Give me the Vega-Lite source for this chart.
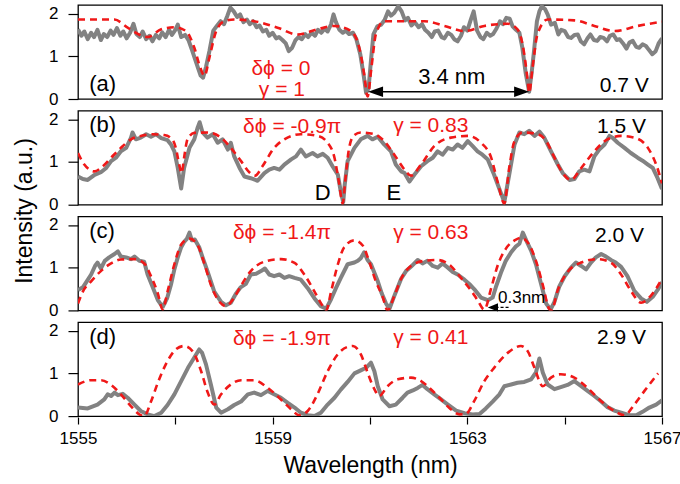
{
"$schema":"https://vega.github.io/schema/vega-lite/v6.json",
"padding":{"left":13,"top":4,"right":5,"bottom":5},
"background":"white",
"bounds":"flush",
"config":{"font":"Liberation Sans","view":{"stroke":"#000000","strokeWidth":1.3},"axis":{"labelFont":"Liberation Sans","titleFont":"Liberation Sans","labelColor":"#000","titleColor":"#000","tickColor":"#000","tickWidth":1.2,"domain":false,"grid":false,"titleFontWeight":"normal"}},
"data":{"values":[
{"p":"a","k":"g","x":1555.00,"y":1.63},{"p":"a","k":"g","x":1555.07,"y":1.48},{"p":"a","k":"g","x":1555.13,"y":1.58},{"p":"a","k":"g","x":1555.20,"y":1.40},{"p":"a","k":"g","x":1555.27,"y":1.55},{"p":"a","k":"g","x":1555.33,"y":1.45},{"p":"a","k":"g","x":1555.40,"y":1.62},{"p":"a","k":"g","x":1555.47,"y":1.38},{"p":"a","k":"g","x":1555.53,"y":1.52},{"p":"a","k":"g","x":1555.60,"y":1.45},{"p":"a","k":"g","x":1555.67,"y":1.60},{"p":"a","k":"g","x":1555.73,"y":1.50},{"p":"a","k":"g","x":1555.80,"y":1.66},{"p":"a","k":"g","x":1555.87,"y":1.48},{"p":"a","k":"g","x":1555.93,"y":1.58},{"p":"a","k":"g","x":1556.00,"y":1.42},{"p":"a","k":"g","x":1556.07,"y":1.55},{"p":"a","k":"g","x":1556.14,"y":1.76},{"p":"a","k":"g","x":1556.20,"y":1.52},{"p":"a","k":"g","x":1556.27,"y":1.45},{"p":"a","k":"g","x":1556.33,"y":1.58},{"p":"a","k":"g","x":1556.40,"y":1.40},{"p":"a","k":"g","x":1556.47,"y":1.48},{"p":"a","k":"g","x":1556.53,"y":1.35},{"p":"a","k":"g","x":1556.60,"y":1.50},{"p":"a","k":"g","x":1556.67,"y":1.42},{"p":"a","k":"g","x":1556.73,"y":1.56},{"p":"a","k":"g","x":1556.80,"y":1.45},{"p":"a","k":"g","x":1556.87,"y":1.62},{"p":"a","k":"g","x":1556.93,"y":1.50},{"p":"a","k":"g","x":1557.00,"y":1.62},{"p":"a","k":"g","x":1557.05,"y":1.74},{"p":"a","k":"g","x":1557.12,"y":1.45},{"p":"a","k":"g","x":1557.20,"y":1.50},{"p":"a","k":"g","x":1557.27,"y":1.38},{"p":"a","k":"g","x":1557.35,"y":1.12},{"p":"a","k":"g","x":1557.45,"y":0.78},{"p":"a","k":"g","x":1557.52,"y":0.55},{"p":"a","k":"g","x":1557.57,"y":0.50},{"p":"a","k":"g","x":1557.63,"y":0.75},{"p":"a","k":"g","x":1557.70,"y":1.12},{"p":"a","k":"g","x":1557.78,"y":1.60},{"p":"a","k":"g","x":1557.86,"y":1.72},{"p":"a","k":"g","x":1557.93,"y":1.82},{"p":"a","k":"g","x":1558.00,"y":1.75},{"p":"a","k":"g","x":1558.07,"y":1.95},{"p":"a","k":"g","x":1558.13,"y":2.14},{"p":"a","k":"g","x":1558.20,"y":2.05},{"p":"a","k":"g","x":1558.27,"y":1.92},{"p":"a","k":"g","x":1558.33,"y":1.98},{"p":"a","k":"g","x":1558.40,"y":1.80},{"p":"a","k":"g","x":1558.47,"y":1.86},{"p":"a","k":"g","x":1558.53,"y":1.75},{"p":"a","k":"g","x":1558.60,"y":1.82},{"p":"a","k":"g","x":1558.67,"y":1.68},{"p":"a","k":"g","x":1558.73,"y":1.72},{"p":"a","k":"g","x":1558.80,"y":1.58},{"p":"a","k":"g","x":1558.87,"y":1.62},{"p":"a","k":"g","x":1558.93,"y":1.48},{"p":"a","k":"g","x":1559.00,"y":1.55},{"p":"a","k":"g","x":1559.07,"y":1.42},{"p":"a","k":"g","x":1559.13,"y":1.45},{"p":"a","k":"g","x":1559.20,"y":1.38},{"p":"a","k":"g","x":1559.27,"y":1.30},{"p":"a","k":"g","x":1559.33,"y":1.12},{"p":"a","k":"g","x":1559.40,"y":1.20},{"p":"a","k":"g","x":1559.47,"y":1.38},{"p":"a","k":"g","x":1559.53,"y":1.45},{"p":"a","k":"g","x":1559.60,"y":1.40},{"p":"a","k":"g","x":1559.67,"y":1.52},{"p":"a","k":"g","x":1559.73,"y":1.45},{"p":"a","k":"g","x":1559.80,"y":1.55},{"p":"a","k":"g","x":1559.87,"y":1.48},{"p":"a","k":"g","x":1559.93,"y":1.62},{"p":"a","k":"g","x":1560.00,"y":1.55},{"p":"a","k":"g","x":1560.07,"y":1.65},{"p":"a","k":"g","x":1560.13,"y":1.58},{"p":"a","k":"g","x":1560.20,"y":1.75},{"p":"a","k":"g","x":1560.25,"y":1.98},{"p":"a","k":"g","x":1560.30,"y":1.80},{"p":"a","k":"g","x":1560.37,"y":1.62},{"p":"a","k":"g","x":1560.44,"y":1.55},{"p":"a","k":"g","x":1560.50,"y":1.60},{"p":"a","k":"g","x":1560.57,"y":1.52},{"p":"a","k":"g","x":1560.65,"y":1.55},{"p":"a","k":"g","x":1560.72,"y":1.40},{"p":"a","k":"g","x":1560.80,"y":1.05},{"p":"a","k":"g","x":1560.87,"y":0.55},{"p":"a","k":"g","x":1560.92,"y":0.14},{"p":"a","k":"g","x":1560.97,"y":0.25},{"p":"a","k":"g","x":1561.02,"y":0.90},{"p":"a","k":"g","x":1561.07,"y":1.51},{"p":"a","k":"g","x":1561.15,"y":1.70},{"p":"a","k":"g","x":1561.23,"y":1.74},{"p":"a","k":"g","x":1561.30,"y":1.85},{"p":"a","k":"g","x":1561.37,"y":2.05},{"p":"a","k":"g","x":1561.43,"y":1.95},{"p":"a","k":"g","x":1561.50,"y":2.02},{"p":"a","k":"g","x":1561.58,"y":2.17},{"p":"a","k":"g","x":1561.65,"y":2.05},{"p":"a","k":"g","x":1561.72,"y":1.84},{"p":"a","k":"g","x":1561.78,"y":1.90},{"p":"a","k":"g","x":1561.85,"y":1.72},{"p":"a","k":"g","x":1561.92,"y":1.80},{"p":"a","k":"g","x":1562.00,"y":1.68},{"p":"a","k":"g","x":1562.07,"y":1.75},{"p":"a","k":"g","x":1562.13,"y":1.62},{"p":"a","k":"g","x":1562.20,"y":1.55},{"p":"a","k":"g","x":1562.27,"y":1.45},{"p":"a","k":"g","x":1562.33,"y":1.58},{"p":"a","k":"g","x":1562.40,"y":1.60},{"p":"a","k":"g","x":1562.47,"y":1.45},{"p":"a","k":"g","x":1562.53,"y":1.42},{"p":"a","k":"g","x":1562.60,"y":1.55},{"p":"a","k":"g","x":1562.67,"y":1.50},{"p":"a","k":"g","x":1562.73,"y":1.40},{"p":"a","k":"g","x":1562.80,"y":1.35},{"p":"a","k":"g","x":1562.87,"y":1.48},{"p":"a","k":"g","x":1562.93,"y":1.68},{"p":"a","k":"g","x":1563.00,"y":1.60},{"p":"a","k":"g","x":1563.07,"y":1.85},{"p":"a","k":"g","x":1563.13,"y":2.05},{"p":"a","k":"g","x":1563.20,"y":1.60},{"p":"a","k":"g","x":1563.27,"y":1.45},{"p":"a","k":"g","x":1563.33,"y":1.40},{"p":"a","k":"g","x":1563.40,"y":1.55},{"p":"a","k":"g","x":1563.47,"y":1.48},{"p":"a","k":"g","x":1563.53,"y":1.52},{"p":"a","k":"g","x":1563.60,"y":1.65},{"p":"a","k":"g","x":1563.67,"y":1.82},{"p":"a","k":"g","x":1563.73,"y":1.75},{"p":"a","k":"g","x":1563.80,"y":1.90},{"p":"a","k":"g","x":1563.87,"y":1.88},{"p":"a","k":"g","x":1563.93,"y":1.70},{"p":"a","k":"g","x":1564.00,"y":1.62},{"p":"a","k":"g","x":1564.07,"y":1.55},{"p":"a","k":"g","x":1564.13,"y":1.20},{"p":"a","k":"g","x":1564.20,"y":0.60},{"p":"a","k":"g","x":1564.27,"y":0.17},{"p":"a","k":"g","x":1564.32,"y":0.60},{"p":"a","k":"g","x":1564.37,"y":1.12},{"p":"a","k":"g","x":1564.43,"y":1.82},{"p":"a","k":"g","x":1564.48,"y":2.05},{"p":"a","k":"g","x":1564.53,"y":2.17},{"p":"a","k":"g","x":1564.60,"y":2.10},{"p":"a","k":"g","x":1564.65,"y":1.98},{"p":"a","k":"g","x":1564.72,"y":1.74},{"p":"a","k":"g","x":1564.80,"y":1.78},{"p":"a","k":"g","x":1564.87,"y":1.51},{"p":"a","k":"g","x":1564.93,"y":1.62},{"p":"a","k":"g","x":1565.00,"y":1.59},{"p":"a","k":"g","x":1565.07,"y":1.45},{"p":"a","k":"g","x":1565.13,"y":1.43},{"p":"a","k":"g","x":1565.20,"y":1.50},{"p":"a","k":"g","x":1565.27,"y":1.51},{"p":"a","k":"g","x":1565.33,"y":1.35},{"p":"a","k":"g","x":1565.40,"y":1.28},{"p":"a","k":"g","x":1565.47,"y":1.42},{"p":"a","k":"g","x":1565.53,"y":1.51},{"p":"a","k":"g","x":1565.60,"y":1.38},{"p":"a","k":"g","x":1565.67,"y":1.36},{"p":"a","k":"g","x":1565.73,"y":1.45},{"p":"a","k":"g","x":1565.80,"y":1.43},{"p":"a","k":"g","x":1565.87,"y":1.35},{"p":"a","k":"g","x":1565.93,"y":1.48},{"p":"a","k":"g","x":1566.00,"y":1.51},{"p":"a","k":"g","x":1566.07,"y":1.38},{"p":"a","k":"g","x":1566.13,"y":1.40},{"p":"a","k":"g","x":1566.20,"y":1.30},{"p":"a","k":"g","x":1566.27,"y":1.18},{"p":"a","k":"g","x":1566.33,"y":1.32},{"p":"a","k":"g","x":1566.40,"y":1.36},{"p":"a","k":"g","x":1566.47,"y":1.22},{"p":"a","k":"g","x":1566.53,"y":1.20},{"p":"a","k":"g","x":1566.60,"y":1.28},{"p":"a","k":"g","x":1566.67,"y":1.24},{"p":"a","k":"g","x":1566.73,"y":1.15},{"p":"a","k":"g","x":1566.80,"y":1.05},{"p":"a","k":"g","x":1566.87,"y":1.12},{"p":"a","k":"g","x":1566.93,"y":1.30},{"p":"a","k":"g","x":1567.00,"y":1.42},
{"p":"a","k":"r","x":1555.00,"y":1.86},{"p":"a","k":"r","x":1555.75,"y":1.86},{"p":"a","k":"r","x":1556.02,"y":1.67},{"p":"a","k":"r","x":1556.43,"y":1.45},{"p":"a","k":"r","x":1556.71,"y":1.63},{"p":"a","k":"r","x":1556.98,"y":1.68},{"p":"a","k":"r","x":1557.22,"y":1.59},{"p":"a","k":"r","x":1557.39,"y":1.20},{"p":"a","k":"r","x":1557.51,"y":0.74},{"p":"a","k":"r","x":1557.60,"y":0.54},{"p":"a","k":"r","x":1557.70,"y":0.97},{"p":"a","k":"r","x":1557.84,"y":1.59},{"p":"a","k":"r","x":1558.01,"y":1.82},{"p":"a","k":"r","x":1558.21,"y":1.86},{"p":"a","k":"r","x":1558.62,"y":1.82},{"p":"a","k":"r","x":1559.10,"y":1.67},{"p":"a","k":"r","x":1559.51,"y":1.51},{"p":"a","k":"r","x":1559.92,"y":1.63},{"p":"a","k":"r","x":1560.27,"y":1.71},{"p":"a","k":"r","x":1560.61,"y":1.59},{"p":"a","k":"r","x":1560.78,"y":1.20},{"p":"a","k":"r","x":1560.88,"y":0.58},{"p":"a","k":"r","x":1560.95,"y":0.06},{"p":"a","k":"r","x":1561.03,"y":0.74},{"p":"a","k":"r","x":1561.12,"y":1.51},{"p":"a","k":"r","x":1561.29,"y":1.82},{"p":"a","k":"r","x":1562.12,"y":1.82},{"p":"a","k":"r","x":1562.53,"y":1.71},{"p":"a","k":"r","x":1562.94,"y":1.59},{"p":"a","k":"r","x":1563.35,"y":1.71},{"p":"a","k":"r","x":1563.83,"y":1.76},{"p":"a","k":"r","x":1564.03,"y":1.63},{"p":"a","k":"r","x":1564.16,"y":1.12},{"p":"a","k":"r","x":1564.24,"y":0.43},{"p":"a","k":"r","x":1564.27,"y":0.14},{"p":"a","k":"r","x":1564.34,"y":0.74},{"p":"a","k":"r","x":1564.44,"y":1.51},{"p":"a","k":"r","x":1564.65,"y":1.86},{"p":"a","k":"r","x":1565.20,"y":1.84},{"p":"a","k":"r","x":1565.61,"y":1.71},{"p":"a","k":"r","x":1566.02,"y":1.59},{"p":"a","k":"r","x":1566.50,"y":1.71},{"p":"a","k":"r","x":1567.00,"y":1.81},
{"p":"b","k":"g","x":1555.00,"y":0.66},{"p":"b","k":"g","x":1555.10,"y":0.60},{"p":"b","k":"g","x":1555.20,"y":0.58},{"p":"b","k":"g","x":1555.34,"y":0.70},{"p":"b","k":"g","x":1555.47,"y":0.76},{"p":"b","k":"g","x":1555.58,"y":0.86},{"p":"b","k":"g","x":1555.68,"y":1.02},{"p":"b","k":"g","x":1555.78,"y":1.10},{"p":"b","k":"g","x":1555.88,"y":1.25},{"p":"b","k":"g","x":1555.99,"y":1.33},{"p":"b","k":"g","x":1556.09,"y":1.57},{"p":"b","k":"g","x":1556.12,"y":1.69},{"p":"b","k":"g","x":1556.19,"y":1.53},{"p":"b","k":"g","x":1556.29,"y":1.57},{"p":"b","k":"g","x":1556.40,"y":1.65},{"p":"b","k":"g","x":1556.50,"y":1.59},{"p":"b","k":"g","x":1556.60,"y":1.65},{"p":"b","k":"g","x":1556.71,"y":1.56},{"p":"b","k":"g","x":1556.84,"y":1.51},{"p":"b","k":"g","x":1556.91,"y":1.41},{"p":"b","k":"g","x":1556.98,"y":1.25},{"p":"b","k":"g","x":1557.05,"y":0.86},{"p":"b","k":"g","x":1557.12,"y":0.38},{"p":"b","k":"g","x":1557.18,"y":0.86},{"p":"b","k":"g","x":1557.29,"y":1.33},{"p":"b","k":"g","x":1557.39,"y":1.53},{"p":"b","k":"g","x":1557.46,"y":1.81},{"p":"b","k":"g","x":1557.50,"y":1.93},{"p":"b","k":"g","x":1557.56,"y":1.69},{"p":"b","k":"g","x":1557.66,"y":1.57},{"p":"b","k":"g","x":1557.77,"y":1.65},{"p":"b","k":"g","x":1557.87,"y":1.45},{"p":"b","k":"g","x":1557.97,"y":1.53},{"p":"b","k":"g","x":1558.08,"y":1.29},{"p":"b","k":"g","x":1558.14,"y":1.45},{"p":"b","k":"g","x":1558.21,"y":1.13},{"p":"b","k":"g","x":1558.32,"y":0.86},{"p":"b","k":"g","x":1558.42,"y":0.66},{"p":"b","k":"g","x":1558.55,"y":0.62},{"p":"b","k":"g","x":1558.69,"y":0.56},{"p":"b","k":"g","x":1558.83,"y":0.74},{"p":"b","k":"g","x":1558.93,"y":0.82},{"p":"b","k":"g","x":1559.03,"y":0.86},{"p":"b","k":"g","x":1559.14,"y":0.82},{"p":"b","k":"g","x":1559.24,"y":0.94},{"p":"b","k":"g","x":1559.38,"y":1.06},{"p":"b","k":"g","x":1559.48,"y":1.13},{"p":"b","k":"g","x":1559.58,"y":1.29},{"p":"b","k":"g","x":1559.68,"y":1.13},{"p":"b","k":"g","x":1559.82,"y":1.21},{"p":"b","k":"g","x":1559.92,"y":1.13},{"p":"b","k":"g","x":1560.03,"y":1.19},{"p":"b","k":"g","x":1560.13,"y":1.10},{"p":"b","k":"g","x":1560.23,"y":0.90},{"p":"b","k":"g","x":1560.34,"y":0.70},{"p":"b","k":"g","x":1560.40,"y":0.30},{"p":"b","k":"g","x":1560.45,"y":0.06},{"p":"b","k":"g","x":1560.48,"y":0.46},{"p":"b","k":"g","x":1560.54,"y":1.02},{"p":"b","k":"g","x":1560.68,"y":1.33},{"p":"b","k":"g","x":1560.81,"y":1.53},{"p":"b","k":"g","x":1560.95,"y":1.61},{"p":"b","k":"g","x":1561.05,"y":1.53},{"p":"b","k":"g","x":1561.16,"y":1.59},{"p":"b","k":"g","x":1561.29,"y":1.41},{"p":"b","k":"g","x":1561.43,"y":1.25},{"p":"b","k":"g","x":1561.53,"y":0.94},{"p":"b","k":"g","x":1561.64,"y":0.78},{"p":"b","k":"g","x":1561.71,"y":0.74},{"p":"b","k":"g","x":1561.81,"y":0.54},{"p":"b","k":"g","x":1561.91,"y":0.70},{"p":"b","k":"g","x":1562.05,"y":0.90},{"p":"b","k":"g","x":1562.18,"y":1.02},{"p":"b","k":"g","x":1562.29,"y":1.10},{"p":"b","k":"g","x":1562.39,"y":1.25},{"p":"b","k":"g","x":1562.49,"y":1.17},{"p":"b","k":"g","x":1562.60,"y":1.33},{"p":"b","k":"g","x":1562.70,"y":1.29},{"p":"b","k":"g","x":1562.80,"y":1.41},{"p":"b","k":"g","x":1562.90,"y":1.33},{"p":"b","k":"g","x":1563.01,"y":1.49},{"p":"b","k":"g","x":1563.11,"y":1.37},{"p":"b","k":"g","x":1563.21,"y":1.25},{"p":"b","k":"g","x":1563.31,"y":1.17},{"p":"b","k":"g","x":1563.42,"y":1.06},{"p":"b","k":"g","x":1563.55,"y":0.70},{"p":"b","k":"g","x":1563.68,"y":0.30},{"p":"b","k":"g","x":1563.76,"y":0.06},{"p":"b","k":"g","x":1563.86,"y":0.70},{"p":"b","k":"g","x":1563.97,"y":1.41},{"p":"b","k":"g","x":1564.07,"y":1.69},{"p":"b","k":"g","x":1564.17,"y":1.65},{"p":"b","k":"g","x":1564.27,"y":1.73},{"p":"b","k":"g","x":1564.38,"y":1.61},{"p":"b","k":"g","x":1564.48,"y":1.71},{"p":"b","k":"g","x":1564.58,"y":1.57},{"p":"b","k":"g","x":1564.72,"y":1.25},{"p":"b","k":"g","x":1564.86,"y":0.94},{"p":"b","k":"g","x":1564.96,"y":0.74},{"p":"b","k":"g","x":1565.10,"y":0.58},{"p":"b","k":"g","x":1565.20,"y":0.60},{"p":"b","k":"g","x":1565.30,"y":0.78},{"p":"b","k":"g","x":1565.40,"y":0.82},{"p":"b","k":"g","x":1565.51,"y":0.78},{"p":"b","k":"g","x":1565.61,"y":1.13},{"p":"b","k":"g","x":1565.71,"y":1.29},{"p":"b","k":"g","x":1565.82,"y":1.41},{"p":"b","k":"g","x":1565.92,"y":1.61},{"p":"b","k":"g","x":1565.99,"y":1.56},{"p":"b","k":"g","x":1566.09,"y":1.45},{"p":"b","k":"g","x":1566.23,"y":1.33},{"p":"b","k":"g","x":1566.36,"y":1.21},{"p":"b","k":"g","x":1566.50,"y":1.10},{"p":"b","k":"g","x":1566.60,"y":1.03},{"p":"b","k":"g","x":1566.71,"y":0.94},{"p":"b","k":"g","x":1566.81,"y":0.86},{"p":"b","k":"g","x":1566.91,"y":0.62},{"p":"b","k":"g","x":1567.00,"y":0.37},
{"p":"b","k":"r","x":1555.00,"y":1.21},{"p":"b","k":"r","x":1555.13,"y":0.94},{"p":"b","k":"r","x":1555.34,"y":0.78},{"p":"b","k":"r","x":1555.47,"y":0.86},{"p":"b","k":"r","x":1555.68,"y":1.10},{"p":"b","k":"r","x":1555.88,"y":1.33},{"p":"b","k":"r","x":1556.09,"y":1.53},{"p":"b","k":"r","x":1556.29,"y":1.61},{"p":"b","k":"r","x":1556.53,"y":1.65},{"p":"b","k":"r","x":1556.77,"y":1.63},{"p":"b","k":"r","x":1556.91,"y":1.56},{"p":"b","k":"r","x":1557.01,"y":1.33},{"p":"b","k":"r","x":1557.08,"y":0.94},{"p":"b","k":"r","x":1557.13,"y":0.74},{"p":"b","k":"r","x":1557.18,"y":1.10},{"p":"b","k":"r","x":1557.25,"y":1.53},{"p":"b","k":"r","x":1557.39,"y":1.68},{"p":"b","k":"r","x":1557.66,"y":1.69},{"p":"b","k":"r","x":1557.94,"y":1.57},{"p":"b","k":"r","x":1558.14,"y":1.33},{"p":"b","k":"r","x":1558.35,"y":1.02},{"p":"b","k":"r","x":1558.52,"y":0.76},{"p":"b","k":"r","x":1558.64,"y":0.68},{"p":"b","k":"r","x":1558.79,"y":0.90},{"p":"b","k":"r","x":1559.03,"y":1.33},{"p":"b","k":"r","x":1559.24,"y":1.53},{"p":"b","k":"r","x":1559.58,"y":1.65},{"p":"b","k":"r","x":1559.92,"y":1.61},{"p":"b","k":"r","x":1560.13,"y":1.45},{"p":"b","k":"r","x":1560.27,"y":1.10},{"p":"b","k":"r","x":1560.36,"y":0.54},{"p":"b","k":"r","x":1560.44,"y":0.03},{"p":"b","k":"r","x":1560.49,"y":0.54},{"p":"b","k":"r","x":1560.56,"y":1.25},{"p":"b","k":"r","x":1560.66,"y":1.61},{"p":"b","k":"r","x":1560.81,"y":1.69},{"p":"b","k":"r","x":1561.09,"y":1.65},{"p":"b","k":"r","x":1561.29,"y":1.49},{"p":"b","k":"r","x":1561.50,"y":1.17},{"p":"b","k":"r","x":1561.71,"y":0.82},{"p":"b","k":"r","x":1561.84,"y":0.68},{"p":"b","k":"r","x":1562.05,"y":0.94},{"p":"b","k":"r","x":1562.32,"y":1.37},{"p":"b","k":"r","x":1562.66,"y":1.57},{"p":"b","k":"r","x":1563.01,"y":1.61},{"p":"b","k":"r","x":1563.28,"y":1.45},{"p":"b","k":"r","x":1563.49,"y":1.10},{"p":"b","k":"r","x":1563.62,"y":0.54},{"p":"b","k":"r","x":1563.76,"y":0.03},{"p":"b","k":"r","x":1563.86,"y":0.86},{"p":"b","k":"r","x":1563.97,"y":1.49},{"p":"b","k":"r","x":1564.14,"y":1.69},{"p":"b","k":"r","x":1564.45,"y":1.65},{"p":"b","k":"r","x":1564.62,"y":1.49},{"p":"b","k":"r","x":1564.79,"y":1.10},{"p":"b","k":"r","x":1564.96,"y":0.74},{"p":"b","k":"r","x":1565.13,"y":0.58},{"p":"b","k":"r","x":1565.34,"y":0.86},{"p":"b","k":"r","x":1565.61,"y":1.25},{"p":"b","k":"r","x":1565.88,"y":1.53},{"p":"b","k":"r","x":1566.16,"y":1.61},{"p":"b","k":"r","x":1566.43,"y":1.57},{"p":"b","k":"r","x":1566.71,"y":1.33},{"p":"b","k":"r","x":1566.88,"y":0.94},{"p":"b","k":"r","x":1567.00,"y":0.50},
{"p":"c","k":"g","x":1555.00,"y":0.48},{"p":"c","k":"g","x":1555.10,"y":0.54},{"p":"c","k":"g","x":1555.18,"y":0.68},{"p":"c","k":"g","x":1555.27,"y":0.84},{"p":"c","k":"g","x":1555.35,"y":1.04},{"p":"c","k":"g","x":1555.40,"y":1.12},{"p":"c","k":"g","x":1555.47,"y":0.98},{"p":"c","k":"g","x":1555.55,"y":1.16},{"p":"c","k":"g","x":1555.64,"y":1.24},{"p":"c","k":"g","x":1555.75,"y":1.32},{"p":"c","k":"g","x":1555.82,"y":1.38},{"p":"c","k":"g","x":1555.88,"y":1.26},{"p":"c","k":"g","x":1555.99,"y":1.24},{"p":"c","k":"g","x":1556.09,"y":1.20},{"p":"c","k":"g","x":1556.16,"y":1.26},{"p":"c","k":"g","x":1556.26,"y":1.16},{"p":"c","k":"g","x":1556.36,"y":1.14},{"p":"c","k":"g","x":1556.43,"y":0.84},{"p":"c","k":"g","x":1556.53,"y":0.56},{"p":"c","k":"g","x":1556.64,"y":0.24},{"p":"c","k":"g","x":1556.74,"y":0.08},{"p":"c","k":"g","x":1556.83,"y":0.28},{"p":"c","k":"g","x":1556.91,"y":0.60},{"p":"c","k":"g","x":1556.98,"y":0.96},{"p":"c","k":"g","x":1557.05,"y":1.24},{"p":"c","k":"g","x":1557.12,"y":1.48},{"p":"c","k":"g","x":1557.18,"y":1.60},{"p":"c","k":"g","x":1557.24,"y":1.68},{"p":"c","k":"g","x":1557.29,"y":1.82},{"p":"c","k":"g","x":1557.34,"y":1.64},{"p":"c","k":"g","x":1557.40,"y":1.66},{"p":"c","k":"g","x":1557.49,"y":1.48},{"p":"c","k":"g","x":1557.56,"y":1.24},{"p":"c","k":"g","x":1557.66,"y":0.92},{"p":"c","k":"g","x":1557.80,"y":0.44},{"p":"c","k":"g","x":1557.94,"y":0.20},{"p":"c","k":"g","x":1558.04,"y":0.12},{"p":"c","k":"g","x":1558.14,"y":0.18},{"p":"c","k":"g","x":1558.25,"y":0.40},{"p":"c","k":"g","x":1558.34,"y":0.54},{"p":"c","k":"g","x":1558.45,"y":0.62},{"p":"c","k":"g","x":1558.55,"y":0.84},{"p":"c","k":"g","x":1558.66,"y":0.86},{"p":"c","k":"g","x":1558.76,"y":0.92},{"p":"c","k":"g","x":1558.84,"y":0.98},{"p":"c","k":"g","x":1558.93,"y":0.84},{"p":"c","k":"g","x":1559.03,"y":0.80},{"p":"c","k":"g","x":1559.14,"y":0.84},{"p":"c","k":"g","x":1559.24,"y":0.76},{"p":"c","k":"g","x":1559.34,"y":0.80},{"p":"c","k":"g","x":1559.45,"y":0.76},{"p":"c","k":"g","x":1559.58,"y":0.72},{"p":"c","k":"g","x":1559.72,"y":0.52},{"p":"c","k":"g","x":1559.86,"y":0.28},{"p":"c","k":"g","x":1559.99,"y":0.10},{"p":"c","k":"g","x":1560.10,"y":0.04},{"p":"c","k":"g","x":1560.20,"y":0.26},{"p":"c","k":"g","x":1560.30,"y":0.52},{"p":"c","k":"g","x":1560.40,"y":0.76},{"p":"c","k":"g","x":1560.54,"y":1.08},{"p":"c","k":"g","x":1560.68,"y":1.12},{"p":"c","k":"g","x":1560.75,"y":1.16},{"p":"c","k":"g","x":1560.81,"y":1.22},{"p":"c","k":"g","x":1560.88,"y":1.36},{"p":"c","k":"g","x":1560.95,"y":1.18},{"p":"c","k":"g","x":1561.02,"y":1.08},{"p":"c","k":"g","x":1561.09,"y":0.88},{"p":"c","k":"g","x":1561.16,"y":0.68},{"p":"c","k":"g","x":1561.24,"y":0.40},{"p":"c","k":"g","x":1561.33,"y":0.16},{"p":"c","k":"g","x":1561.40,"y":0.04},{"p":"c","k":"g","x":1561.50,"y":0.34},{"p":"c","k":"g","x":1561.64,"y":0.74},{"p":"c","k":"g","x":1561.74,"y":0.92},{"p":"c","k":"g","x":1561.84,"y":1.02},{"p":"c","k":"g","x":1561.98,"y":1.18},{"p":"c","k":"g","x":1562.08,"y":1.10},{"p":"c","k":"g","x":1562.18,"y":1.16},{"p":"c","k":"g","x":1562.29,"y":1.04},{"p":"c","k":"g","x":1562.39,"y":1.00},{"p":"c","k":"g","x":1562.49,"y":1.10},{"p":"c","k":"g","x":1562.60,"y":1.00},{"p":"c","k":"g","x":1562.70,"y":0.90},{"p":"c","k":"g","x":1562.80,"y":0.84},{"p":"c","k":"g","x":1562.94,"y":0.72},{"p":"c","k":"g","x":1563.04,"y":0.62},{"p":"c","k":"g","x":1563.14,"y":0.50},{"p":"c","k":"g","x":1563.28,"y":0.30},{"p":"c","k":"g","x":1563.42,"y":0.24},{"p":"c","k":"g","x":1563.52,"y":0.30},{"p":"c","k":"g","x":1563.59,"y":0.56},{"p":"c","k":"g","x":1563.69,"y":0.88},{"p":"c","k":"g","x":1563.79,"y":1.16},{"p":"c","k":"g","x":1563.90,"y":1.36},{"p":"c","k":"g","x":1564.00,"y":1.50},{"p":"c","k":"g","x":1564.07,"y":1.56},{"p":"c","k":"g","x":1564.14,"y":1.82},{"p":"c","k":"g","x":1564.21,"y":1.64},{"p":"c","k":"g","x":1564.31,"y":1.40},{"p":"c","k":"g","x":1564.41,"y":1.08},{"p":"c","k":"g","x":1564.51,"y":0.64},{"p":"c","k":"g","x":1564.62,"y":0.16},{"p":"c","k":"g","x":1564.71,"y":0.02},{"p":"c","k":"g","x":1564.79,"y":0.20},{"p":"c","k":"g","x":1564.89,"y":0.56},{"p":"c","k":"g","x":1565.00,"y":0.80},{"p":"c","k":"g","x":1565.13,"y":1.00},{"p":"c","k":"g","x":1565.23,"y":1.12},{"p":"c","k":"g","x":1565.34,"y":1.04},{"p":"c","k":"g","x":1565.44,"y":0.96},{"p":"c","k":"g","x":1565.54,"y":1.12},{"p":"c","k":"g","x":1565.64,"y":1.24},{"p":"c","k":"g","x":1565.75,"y":1.32},{"p":"c","k":"g","x":1565.85,"y":1.26},{"p":"c","k":"g","x":1565.95,"y":1.18},{"p":"c","k":"g","x":1566.05,"y":1.12},{"p":"c","k":"g","x":1566.16,"y":1.02},{"p":"c","k":"g","x":1566.29,"y":0.80},{"p":"c","k":"g","x":1566.43,"y":0.46},{"p":"c","k":"g","x":1566.57,"y":0.28},{"p":"c","k":"g","x":1566.69,"y":0.20},{"p":"c","k":"g","x":1566.81,"y":0.32},{"p":"c","k":"g","x":1566.91,"y":0.48},{"p":"c","k":"g","x":1567.00,"y":0.66},
{"p":"c","k":"r","x":1555.00,"y":0.16},{"p":"c","k":"r","x":1555.10,"y":0.44},{"p":"c","k":"r","x":1555.27,"y":0.68},{"p":"c","k":"r","x":1555.47,"y":0.92},{"p":"c","k":"r","x":1555.68,"y":1.10},{"p":"c","k":"r","x":1555.88,"y":1.19},{"p":"c","k":"r","x":1556.16,"y":1.20},{"p":"c","k":"r","x":1556.36,"y":1.10},{"p":"c","k":"r","x":1556.50,"y":0.80},{"p":"c","k":"r","x":1556.64,"y":0.40},{"p":"c","k":"r","x":1556.74,"y":0.02},{"p":"c","k":"r","x":1556.84,"y":0.44},{"p":"c","k":"r","x":1556.98,"y":1.08},{"p":"c","k":"r","x":1557.12,"y":1.54},{"p":"c","k":"r","x":1557.29,"y":1.68},{"p":"c","k":"r","x":1557.46,"y":1.52},{"p":"c","k":"r","x":1557.60,"y":1.08},{"p":"c","k":"r","x":1557.73,"y":0.60},{"p":"c","k":"r","x":1557.87,"y":0.26},{"p":"c","k":"r","x":1558.04,"y":0.10},{"p":"c","k":"r","x":1558.21,"y":0.30},{"p":"c","k":"r","x":1558.35,"y":0.58},{"p":"c","k":"r","x":1558.55,"y":0.92},{"p":"c","k":"r","x":1558.83,"y":1.14},{"p":"c","k":"r","x":1559.17,"y":1.20},{"p":"c","k":"r","x":1559.45,"y":1.11},{"p":"c","k":"r","x":1559.65,"y":0.84},{"p":"c","k":"r","x":1559.86,"y":0.44},{"p":"c","k":"r","x":1560.03,"y":0.10},{"p":"c","k":"r","x":1560.10,"y":0.00},{"p":"c","k":"r","x":1560.20,"y":0.44},{"p":"c","k":"r","x":1560.34,"y":1.08},{"p":"c","k":"r","x":1560.47,"y":1.48},{"p":"c","k":"r","x":1560.68,"y":1.64},{"p":"c","k":"r","x":1560.85,"y":1.52},{"p":"c","k":"r","x":1560.99,"y":1.12},{"p":"c","k":"r","x":1561.12,"y":0.68},{"p":"c","k":"r","x":1561.26,"y":0.32},{"p":"c","k":"r","x":1561.36,"y":0.00},{"p":"c","k":"r","x":1561.50,"y":0.34},{"p":"c","k":"r","x":1561.64,"y":0.74},{"p":"c","k":"r","x":1561.84,"y":1.04},{"p":"c","k":"r","x":1562.12,"y":1.16},{"p":"c","k":"r","x":1562.39,"y":1.18},{"p":"c","k":"r","x":1562.66,"y":1.04},{"p":"c","k":"r","x":1562.87,"y":0.76},{"p":"c","k":"r","x":1563.08,"y":0.46},{"p":"c","k":"r","x":1563.21,"y":0.24},{"p":"c","k":"r","x":1563.35,"y":0.02},{"p":"c","k":"r","x":1563.49,"y":0.52},{"p":"c","k":"r","x":1563.62,"y":1.04},{"p":"c","k":"r","x":1563.79,"y":1.44},{"p":"c","k":"r","x":1563.97,"y":1.64},{"p":"c","k":"r","x":1564.10,"y":1.70},{"p":"c","k":"r","x":1564.27,"y":1.54},{"p":"c","k":"r","x":1564.41,"y":1.16},{"p":"c","k":"r","x":1564.55,"y":0.60},{"p":"c","k":"r","x":1564.68,"y":0.04},{"p":"c","k":"r","x":1564.73,"y":0.00},{"p":"c","k":"r","x":1564.86,"y":0.48},{"p":"c","k":"r","x":1565.06,"y":0.90},{"p":"c","k":"r","x":1565.34,"y":1.12},{"p":"c","k":"r","x":1565.68,"y":1.20},{"p":"c","k":"r","x":1565.95,"y":1.12},{"p":"c","k":"r","x":1566.16,"y":0.84},{"p":"c","k":"r","x":1566.36,"y":0.46},{"p":"c","k":"r","x":1566.57,"y":0.18},{"p":"c","k":"r","x":1566.77,"y":0.34},{"p":"c","k":"r","x":1567.00,"y":0.74},
{"p":"d","k":"g","x":1555.00,"y":0.20},{"p":"d","k":"g","x":1555.20,"y":0.18},{"p":"d","k":"g","x":1555.40,"y":0.27},{"p":"d","k":"g","x":1555.54,"y":0.39},{"p":"d","k":"g","x":1555.61,"y":0.51},{"p":"d","k":"g","x":1555.68,"y":0.47},{"p":"d","k":"g","x":1555.75,"y":0.55},{"p":"d","k":"g","x":1555.82,"y":0.49},{"p":"d","k":"g","x":1555.92,"y":0.52},{"p":"d","k":"g","x":1556.02,"y":0.43},{"p":"d","k":"g","x":1556.16,"y":0.27},{"p":"d","k":"g","x":1556.29,"y":0.12},{"p":"d","k":"g","x":1556.43,"y":0.04},{"p":"d","k":"g","x":1556.57,"y":0.00},{"p":"d","k":"g","x":1556.71,"y":0.08},{"p":"d","k":"g","x":1556.84,"y":0.26},{"p":"d","k":"g","x":1556.98,"y":0.51},{"p":"d","k":"g","x":1557.12,"y":0.82},{"p":"d","k":"g","x":1557.26,"y":1.13},{"p":"d","k":"g","x":1557.39,"y":1.37},{"p":"d","k":"g","x":1557.49,"y":1.56},{"p":"d","k":"g","x":1557.55,"y":1.48},{"p":"d","k":"g","x":1557.63,"y":1.21},{"p":"d","k":"g","x":1557.73,"y":0.74},{"p":"d","k":"g","x":1557.84,"y":0.20},{"p":"d","k":"g","x":1557.94,"y":0.08},{"p":"d","k":"g","x":1558.08,"y":0.16},{"p":"d","k":"g","x":1558.21,"y":0.26},{"p":"d","k":"g","x":1558.35,"y":0.34},{"p":"d","k":"g","x":1558.49,"y":0.51},{"p":"d","k":"g","x":1558.62,"y":0.55},{"p":"d","k":"g","x":1558.76,"y":0.49},{"p":"d","k":"g","x":1558.90,"y":0.59},{"p":"d","k":"g","x":1559.03,"y":0.51},{"p":"d","k":"g","x":1559.17,"y":0.43},{"p":"d","k":"g","x":1559.31,"y":0.31},{"p":"d","k":"g","x":1559.45,"y":0.20},{"p":"d","k":"g","x":1559.58,"y":0.08},{"p":"d","k":"g","x":1559.72,"y":0.02},{"p":"d","k":"g","x":1559.86,"y":0.00},{"p":"d","k":"g","x":1559.99,"y":0.08},{"p":"d","k":"g","x":1560.13,"y":0.27},{"p":"d","k":"g","x":1560.27,"y":0.43},{"p":"d","k":"g","x":1560.40,"y":0.62},{"p":"d","k":"g","x":1560.54,"y":0.80},{"p":"d","k":"g","x":1560.68,"y":1.00},{"p":"d","k":"g","x":1560.81,"y":1.07},{"p":"d","k":"g","x":1560.92,"y":1.13},{"p":"d","k":"g","x":1561.02,"y":1.25},{"p":"d","k":"g","x":1561.09,"y":1.05},{"p":"d","k":"g","x":1561.16,"y":0.70},{"p":"d","k":"g","x":1561.26,"y":0.39},{"p":"d","k":"g","x":1561.40,"y":0.23},{"p":"d","k":"g","x":1561.53,"y":0.27},{"p":"d","k":"g","x":1561.67,"y":0.43},{"p":"d","k":"g","x":1561.77,"y":0.55},{"p":"d","k":"g","x":1561.88,"y":0.60},{"p":"d","k":"g","x":1561.98,"y":0.66},{"p":"d","k":"g","x":1562.08,"y":0.73},{"p":"d","k":"g","x":1562.18,"y":0.63},{"p":"d","k":"g","x":1562.32,"y":0.51},{"p":"d","k":"g","x":1562.46,"y":0.39},{"p":"d","k":"g","x":1562.60,"y":0.27},{"p":"d","k":"g","x":1562.77,"y":0.13},{"p":"d","k":"g","x":1562.94,"y":0.07},{"p":"d","k":"g","x":1563.11,"y":0.04},{"p":"d","k":"g","x":1563.25,"y":0.05},{"p":"d","k":"g","x":1563.38,"y":0.18},{"p":"d","k":"g","x":1563.52,"y":0.34},{"p":"d","k":"g","x":1563.66,"y":0.51},{"p":"d","k":"g","x":1563.76,"y":0.70},{"p":"d","k":"g","x":1563.90,"y":0.74},{"p":"d","k":"g","x":1564.03,"y":0.78},{"p":"d","k":"g","x":1564.17,"y":0.80},{"p":"d","k":"g","x":1564.31,"y":0.86},{"p":"d","k":"g","x":1564.41,"y":1.02},{"p":"d","k":"g","x":1564.48,"y":1.35},{"p":"d","k":"g","x":1564.55,"y":1.02},{"p":"d","k":"g","x":1564.65,"y":0.74},{"p":"d","k":"g","x":1564.79,"y":0.63},{"p":"d","k":"g","x":1564.92,"y":0.68},{"p":"d","k":"g","x":1565.06,"y":0.73},{"p":"d","k":"g","x":1565.20,"y":0.82},{"p":"d","k":"g","x":1565.34,"y":0.70},{"p":"d","k":"g","x":1565.47,"y":0.59},{"p":"d","k":"g","x":1565.61,"y":0.47},{"p":"d","k":"g","x":1565.75,"y":0.34},{"p":"d","k":"g","x":1565.88,"y":0.21},{"p":"d","k":"g","x":1566.02,"y":0.13},{"p":"d","k":"g","x":1566.16,"y":0.08},{"p":"d","k":"g","x":1566.33,"y":0.02},{"p":"d","k":"g","x":1566.47,"y":0.02},{"p":"d","k":"g","x":1566.60,"y":0.10},{"p":"d","k":"g","x":1566.74,"y":0.20},{"p":"d","k":"g","x":1566.88,"y":0.27},{"p":"d","k":"g","x":1567.00,"y":0.37},
{"p":"d","k":"r","x":1555.00,"y":0.74},{"p":"d","k":"r","x":1555.27,"y":0.84},{"p":"d","k":"r","x":1555.47,"y":0.84},{"p":"d","k":"r","x":1555.68,"y":0.73},{"p":"d","k":"r","x":1555.88,"y":0.51},{"p":"d","k":"r","x":1556.09,"y":0.23},{"p":"d","k":"r","x":1556.26,"y":0.04},{"p":"d","k":"r","x":1556.36,"y":0.00},{"p":"d","k":"r","x":1556.50,"y":0.34},{"p":"d","k":"r","x":1556.64,"y":0.78},{"p":"d","k":"r","x":1556.84,"y":1.29},{"p":"d","k":"r","x":1557.01,"y":1.56},{"p":"d","k":"r","x":1557.18,"y":1.64},{"p":"d","k":"r","x":1557.36,"y":1.51},{"p":"d","k":"r","x":1557.53,"y":1.05},{"p":"d","k":"r","x":1557.66,"y":0.57},{"p":"d","k":"r","x":1557.80,"y":0.27},{"p":"d","k":"r","x":1557.94,"y":0.51},{"p":"d","k":"r","x":1558.14,"y":0.74},{"p":"d","k":"r","x":1558.35,"y":0.84},{"p":"d","k":"r","x":1558.62,"y":0.84},{"p":"d","k":"r","x":1558.90,"y":0.66},{"p":"d","k":"r","x":1559.17,"y":0.39},{"p":"d","k":"r","x":1559.38,"y":0.16},{"p":"d","k":"r","x":1559.55,"y":0.02},{"p":"d","k":"r","x":1559.72,"y":0.12},{"p":"d","k":"r","x":1559.92,"y":0.51},{"p":"d","k":"r","x":1560.13,"y":1.05},{"p":"d","k":"r","x":1560.34,"y":1.45},{"p":"d","k":"r","x":1560.54,"y":1.62},{"p":"d","k":"r","x":1560.65,"y":1.64},{"p":"d","k":"r","x":1560.81,"y":1.45},{"p":"d","k":"r","x":1560.95,"y":1.02},{"p":"d","k":"r","x":1561.09,"y":0.63},{"p":"d","k":"r","x":1561.19,"y":0.47},{"p":"d","k":"r","x":1561.36,"y":0.70},{"p":"d","k":"r","x":1561.57,"y":0.86},{"p":"d","k":"r","x":1561.84,"y":0.90},{"p":"d","k":"r","x":1562.05,"y":0.82},{"p":"d","k":"r","x":1562.25,"y":0.63},{"p":"d","k":"r","x":1562.46,"y":0.39},{"p":"d","k":"r","x":1562.66,"y":0.16},{"p":"d","k":"r","x":1562.84,"y":0.04},{"p":"d","k":"r","x":1562.97,"y":0.05},{"p":"d","k":"r","x":1563.14,"y":0.35},{"p":"d","k":"r","x":1563.35,"y":0.82},{"p":"d","k":"r","x":1563.55,"y":1.13},{"p":"d","k":"r","x":1563.83,"y":1.48},{"p":"d","k":"r","x":1564.10,"y":1.64},{"p":"d","k":"r","x":1564.24,"y":1.52},{"p":"d","k":"r","x":1564.38,"y":1.13},{"p":"d","k":"r","x":1564.55,"y":0.70},{"p":"d","k":"r","x":1564.72,"y":0.90},{"p":"d","k":"r","x":1564.92,"y":0.98},{"p":"d","k":"r","x":1565.20,"y":0.90},{"p":"d","k":"r","x":1565.47,"y":0.66},{"p":"d","k":"r","x":1565.75,"y":0.35},{"p":"d","k":"r","x":1566.02,"y":0.12},{"p":"d","k":"r","x":1566.23,"y":0.02},{"p":"d","k":"r","x":1566.43,"y":0.27},{"p":"d","k":"r","x":1566.64,"y":0.59},{"p":"d","k":"r","x":1566.92,"y":1.00},
{"p":"a","k":"tl","x":1555.23,"y":0.36,"t":"(a)"},{"p":"a","k":"tr","x":1559.17,"y":0.70,"t":"δϕ = 0"},{"p":"a","k":"tr","x":1559.19,"y":0.21,"t":"γ = 1"},{"p":"a","k":"tc","x":1562.68,"y":0.52,"t":"3.4 nm"},{"p":"a","k":"tv","x":1566.73,"y":0.30,"t":"0.7 V"},
{"p":"b","k":"tl","x":1555.23,"y":1.87,"t":"(b)"},{"p":"b","k":"tr","x":1559.40,"y":1.83,"t":"δϕ = -0.9π"},{"p":"b","k":"tr","x":1562.25,"y":1.85,"t":"γ = 0.83"},{"p":"b","k":"tv","x":1566.67,"y":1.83,"t":"1.5 V"},{"p":"b","k":"tc","x":1560.03,"y":0.28,"t":"D"},{"p":"b","k":"tc","x":1561.49,"y":0.28,"t":"E"},
{"p":"c","k":"tl","x":1555.23,"y":1.85,"t":"(c)"},{"p":"c","k":"tr","x":1559.19,"y":1.80,"t":"δϕ = -1.4π"},{"p":"c","k":"tr","x":1562.25,"y":1.80,"t":"γ = 0.63"},{"p":"c","k":"tv","x":1566.63,"y":1.73,"t":"2.0 V"},{"p":"c","k":"ts","x":1563.63,"y":0.30,"t":"0.3nm"},
{"p":"d","k":"tl","x":1555.23,"y":1.85,"t":"(d)"},{"p":"d","k":"tr","x":1559.19,"y":1.80,"t":"δϕ = -1.9π"},{"p":"d","k":"tr","x":1562.25,"y":1.83,"t":"γ = 0.41"},{"p":"d","k":"tv","x":1566.67,"y":1.83,"t":"2.9 V"},
{"p":"a","k":"ar","x":1561.05,"x2":1564.20,"y":0.17},{"p":"a","k":"hl","x":1560.96,"y":0.17},{"p":"a","k":"hr","x":1564.27,"y":0.17},
{"p":"c","k":"ad","x":1563.58,"x2":1563.86,"y":0.07},{"p":"c","k":"hs","x":1563.42,"y":0.07}
]},
"facet":{"row":{"field":"p","type":"nominal","title":"Intensity (a.u.)","header":{"labels":false,"labelPadding":0,"title":"Intensity (a.u.)","titleOrient":"left","titleAngle":-90,"titleFont":"Liberation Sans","titleFontSize":23,"titleFontWeight":"normal","titleColor":"#000","titlePadding":-22,"titleAnchor":"middle"}}},
"spacing":{"row":11.7},
"spec":{
"width":584,"height":94,
"encoding":{
"x":{"field":"x","type":"quantitative","scale":{"domain":[1555,1567],"nice":false,"zero":false},"axis":{"values":[1555,1557,1559,1561,1563,1565,1567],"format":"d","labelExpr":"datum.value % 4 === 3 ? datum.label : ''","tickSize":7,"labelFontSize":17,"labelPadding":6,"labelFlush":false,"title":"Wavelength (nm)","titleFontSize":23,"titlePadding":8}},
"y":{"field":"y","type":"quantitative","scale":{"domain":[0,2.2],"nice":false,"zero":false},"axis":{"values":[0,0.5,1,1.5,2],"format":"d","labelExpr":"datum.value % 1 === 0 ? datum.label : ''","tickSize":{"condition":{"test":"datum.value % 1 === 0","value":10},"value":5},"labelFontSize":17,"labelPadding":10,"title":null}}
},
"layer":[
{"transform":[{"filter":"datum.k === 'g'"}],"mark":{"type":"line","color":"#828282","strokeWidth":4,"strokeJoin":"round","clip":true}},
{"transform":[{"filter":"datum.k === 'r'"}],"mark":{"type":"line","color":"#f01818","strokeWidth":2.6,"strokeDash":[7,5],"interpolate":"monotone","clip":true}},
{"transform":[{"filter":"datum.k === 'tr'"}],"mark":{"type":"text","color":"#f01818","fontSize":21,"align":"center","baseline":"middle"},"encoding":{"text":{"field":"t"}}},
{"transform":[{"filter":"datum.k === 'tl'"}],"mark":{"type":"text","color":"#000","fontSize":22,"align":"left","baseline":"middle"},"encoding":{"text":{"field":"t"}}},
{"transform":[{"filter":"datum.k === 'tv'"}],"mark":{"type":"text","color":"#000","fontSize":21,"align":"right","baseline":"middle"},"encoding":{"text":{"field":"t"}}},
{"transform":[{"filter":"datum.k === 'tc'"}],"mark":{"type":"text","color":"#000","fontSize":22,"align":"center","baseline":"middle"},"encoding":{"text":{"field":"t"}}},
{"transform":[{"filter":"datum.k === 'ts'"}],"mark":{"type":"text","color":"#000","fontSize":17,"align":"left","baseline":"middle"},"encoding":{"text":{"field":"t"}}},
{"transform":[{"filter":"datum.k === 'ar'"}],"mark":{"type":"rule","color":"#000","strokeWidth":1.6},"encoding":{"x2":{"field":"x2"}}},
{"transform":[{"filter":"datum.k === 'ad'"}],"mark":{"type":"rule","color":"#000","strokeWidth":1.4,"strokeDash":[3,2]},"encoding":{"x2":{"field":"x2"}}},
{"transform":[{"filter":"datum.k === 'hl'"}],"mark":{"type":"point","filled":true,"color":"#000","opacity":1,"size":900,"shape":"M0,0L1,-0.35L1,0.35Z","strokeWidth":0}},
{"transform":[{"filter":"datum.k === 'hr'"}],"mark":{"type":"point","filled":true,"color":"#000","opacity":1,"size":900,"shape":"M0,0L-1,-0.35L-1,0.35Z","strokeWidth":0}},
{"transform":[{"filter":"datum.k === 'hs'"}],"mark":{"type":"point","filled":true,"color":"#000","opacity":1,"size":420,"shape":"M0,0L1,-0.4L1,0.4Z","strokeWidth":0}}
]
}
}
